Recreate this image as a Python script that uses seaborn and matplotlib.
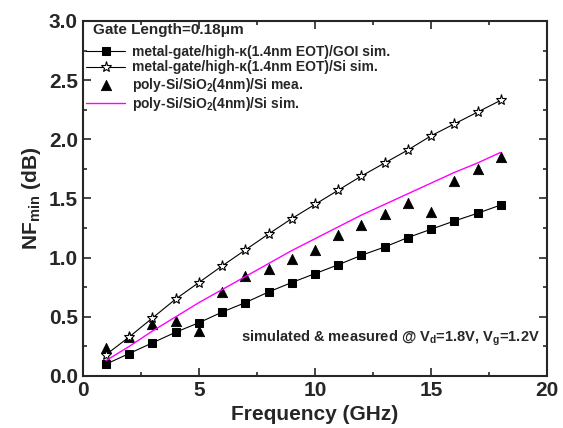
import numpy as np
import pandas as pd
import matplotlib
matplotlib.use("Agg")
import matplotlib.pyplot as plt
import seaborn as sns
from matplotlib.ticker import MultipleLocator

# --- data ---
freq = list(range(1, 19))
goi_sim = [0.10, 0.19, 0.28, 0.37, 0.45, 0.54, 0.62, 0.71, 0.79, 0.865,
           0.94, 1.02, 1.09, 1.17, 1.24, 1.31, 1.375, 1.445]
si_sim = [0.18, 0.33, 0.49, 0.65, 0.79, 0.93, 1.065, 1.20, 1.33, 1.45,
          1.57, 1.69, 1.80, 1.91, 2.03, 2.13, 2.23, 2.33]
poly_mea = [0.24, 0.33, 0.44, 0.465, 0.38, 0.71, 0.845, 0.90, 0.99, 1.065,
            1.19, 1.28, 1.37, 1.46, 1.39, 1.65, 1.75, 1.85]
poly_sim = [0.13, 0.25, 0.38, 0.50, 0.62, 0.73, 0.84, 0.95, 1.06, 1.16,
            1.26, 1.36, 1.45, 1.54, 1.63, 1.72, 1.80, 1.89]

labels = ["metal-gate/high-\u03ba(1.4nm EOT)/GOI sim.",
          "metal-gate/high-\u03ba(1.4nm EOT)/Si sim.",
          "poly-Si/SiO$_2$(4nm)/Si mea.",
          "poly-Si/SiO$_2$(4nm)/Si sim."]

df = pd.DataFrame({"freq": freq, "goi": goi_sim, "si": si_sim,
                   "mea": poly_mea, "sim": poly_sim})

sns.set_style("ticks")
plt.rcParams["font.family"] = ["Liberation Sans", "DejaVu Sans"]
plt.rcParams["font.weight"] = "bold"
plt.rcParams["mathtext.fontset"] = "custom"
plt.rcParams["mathtext.rm"] = "Liberation Sans:bold"
plt.rcParams["mathtext.it"] = "Liberation Sans:bold"
plt.rcParams["mathtext.bf"] = "Liberation Sans:bold"

fig = plt.figure(figsize=(5.63, 4.28), dpi=100)
ax = fig.add_axes([0.147, 0.1215, 0.825, 0.8295])

sns.lineplot(data=df, x="freq", y="goi", ax=ax, color="black", lw=0.8,
             marker="s", markersize=6, markeredgecolor="black",
             markerfacecolor="black", label=labels[0])
sns.lineplot(data=df, x="freq", y="si", ax=ax, color="black", lw=0.8,
             marker="*", markersize=8, markeredgecolor="black",
             markerfacecolor="white", markeredgewidth=0.8, label=labels[1])
sns.scatterplot(data=df, x="freq", y="mea", ax=ax, color="black",
                marker="^", s=55, edgecolor="black", label=labels[2])
sns.lineplot(data=df, x="freq", y="sim", ax=ax, color="#ff00ff", lw=1.0,
             label=labels[3])

ax.set_xlim(0, 20)
ax.set_ylim(0, 3.0)
ax.xaxis.set_major_locator(MultipleLocator(5))
ax.xaxis.set_minor_locator(MultipleLocator(2.5))
ax.yaxis.set_major_locator(MultipleLocator(0.5))
ax.yaxis.set_minor_locator(MultipleLocator(0.25))
ax.tick_params(which="both", direction="in", top=True, right=True,
               width=1.2, labelsize=15)
ax.tick_params(which="major", length=6)
ax.tick_params(which="minor", length=3)
for lab in ax.get_xticklabels() + ax.get_yticklabels():
    lab.set_fontweight("bold")
for sp in ax.spines.values():
    sp.set_linewidth(1.5)

ax.set_xlabel("Frequency (GHz)", fontsize=15, fontweight="bold")
ax.set_ylabel("NF$_{min}$ (dB)", fontsize=15, fontweight="bold")

ax.text(0.022, 0.975, "Gate Length=0.18\u03bcm", transform=ax.transAxes,
        fontsize=11, fontweight="bold", va="center", ha="left")
ax.text(0.985, 0.107, "simulated & measured @ V$_d$=1.8V, V$_g$=1.2V",
        transform=ax.transAxes, fontsize=10.5, fontweight="bold",
        va="center", ha="right")

leg = ax.legend(loc="upper left", bbox_to_anchor=(-0.01, 0.955),
                frameon=False, fontsize=10, handlelength=2.8,
                handletextpad=0.5, labelspacing=0.08, borderaxespad=0.2)
for t in leg.get_texts():
    t.set_fontweight("bold")

fig.savefig("out.png", dpi=100)
